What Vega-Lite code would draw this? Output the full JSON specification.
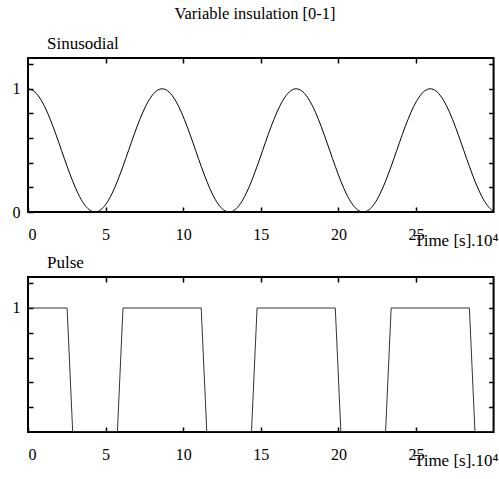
{
  "$schema": "https://vega.github.io/schema/vega-lite/v6.json",
  "padding": {"left": 11, "top": 5, "right": 0, "bottom": 0},
  "title": {"text": "Variable insulation [0-1]", "fontSize": 16.5, "fontWeight": "normal", "font": "serif", "color": "#000", "anchor": "middle", "offset": 12},
  "config": {
    "view": {"stroke": "#000", "strokeWidth": 2},
    "axis": {"domain": false, "grid": false, "tickColor": "#000", "tickWidth": 1.5, "tickSize": -5, "labelFont": "Liberation Serif", "labelFontSize": 16, "labelColor": "#000", "titleFont": "Times New Roman", "titleFontSize": 17, "titleFontWeight": "normal", "titleColor": "#000"},
    "title": {"font": "serif", "fontSize": 17, "fontWeight": "normal", "color": "#000"}
  },
  "datasets": {
    "sine": [
      {"t": 0, "v": 1}, {"t": 0.36, "v": 0.983}, {"t": 0.72, "v": 0.933}, {"t": 1.08, "v": 0.8536}, {"t": 1.44, "v": 0.75}, {"t": 1.8, "v": 0.6294}, {"t": 2.16, "v": 0.5}, {"t": 2.52, "v": 0.3706}, {"t": 2.88, "v": 0.25}, {"t": 3.24, "v": 0.1464}, {"t": 3.6, "v": 0.067}, {"t": 3.96, "v": 0.017},
      {"t": 4.32, "v": 0}, {"t": 4.68, "v": 0.017}, {"t": 5.04, "v": 0.067}, {"t": 5.4, "v": 0.1464}, {"t": 5.76, "v": 0.25}, {"t": 6.12, "v": 0.3706}, {"t": 6.48, "v": 0.5}, {"t": 6.84, "v": 0.6294}, {"t": 7.2, "v": 0.75}, {"t": 7.56, "v": 0.8536}, {"t": 7.92, "v": 0.933}, {"t": 8.28, "v": 0.983},
      {"t": 8.64, "v": 1}, {"t": 9, "v": 0.983}, {"t": 9.36, "v": 0.933}, {"t": 9.72, "v": 0.8536}, {"t": 10.08, "v": 0.75}, {"t": 10.44, "v": 0.6294}, {"t": 10.8, "v": 0.5}, {"t": 11.16, "v": 0.3706}, {"t": 11.52, "v": 0.25}, {"t": 11.88, "v": 0.1464}, {"t": 12.24, "v": 0.067}, {"t": 12.6, "v": 0.017},
      {"t": 12.96, "v": 0}, {"t": 13.32, "v": 0.017}, {"t": 13.68, "v": 0.067}, {"t": 14.04, "v": 0.1464}, {"t": 14.4, "v": 0.25}, {"t": 14.76, "v": 0.3706}, {"t": 15.12, "v": 0.5}, {"t": 15.48, "v": 0.6294}, {"t": 15.84, "v": 0.75}, {"t": 16.2, "v": 0.8536}, {"t": 16.56, "v": 0.933}, {"t": 16.92, "v": 0.983},
      {"t": 17.28, "v": 1}, {"t": 17.64, "v": 0.983}, {"t": 18, "v": 0.933}, {"t": 18.36, "v": 0.8536}, {"t": 18.72, "v": 0.75}, {"t": 19.08, "v": 0.6294}, {"t": 19.44, "v": 0.5}, {"t": 19.8, "v": 0.3706}, {"t": 20.16, "v": 0.25}, {"t": 20.52, "v": 0.1464}, {"t": 20.88, "v": 0.067}, {"t": 21.24, "v": 0.017},
      {"t": 21.6, "v": 0}, {"t": 21.96, "v": 0.017}, {"t": 22.32, "v": 0.067}, {"t": 22.68, "v": 0.1464}, {"t": 23.04, "v": 0.25}, {"t": 23.4, "v": 0.3706}, {"t": 23.76, "v": 0.5}, {"t": 24.12, "v": 0.6294}, {"t": 24.48, "v": 0.75}, {"t": 24.84, "v": 0.8536}, {"t": 25.2, "v": 0.933}, {"t": 25.56, "v": 0.983},
      {"t": 25.92, "v": 1}, {"t": 26.28, "v": 0.983}, {"t": 26.64, "v": 0.933}, {"t": 27, "v": 0.8536}, {"t": 27.36, "v": 0.75}, {"t": 27.72, "v": 0.6294}, {"t": 28.08, "v": 0.5}, {"t": 28.44, "v": 0.3706}, {"t": 28.8, "v": 0.25}, {"t": 29.16, "v": 0.1464}, {"t": 29.52, "v": 0.067}, {"t": 29.88, "v": 0.017},
      {"t": 30, "v": 0.0076}
    ],
    "pulse": [
      {"t": 0, "v": 1}, {"t": 2.52, "v": 1}, {"t": 2.88, "v": 0}, {"t": 5.76, "v": 0}, {"t": 6.12, "v": 1}, {"t": 11.16, "v": 1}, {"t": 11.52, "v": 0}, {"t": 14.4, "v": 0}, {"t": 14.76, "v": 1}, {"t": 19.8, "v": 1}, {"t": 20.16, "v": 0}, {"t": 23.04, "v": 0}, {"t": 23.4, "v": 1}, {"t": 28.44, "v": 1}, {"t": 28.8, "v": 0}, {"t": 30, "v": 0}
    ]
  },
  "vconcat": [
    {
      "width": 465.6,
      "height": 154,
      "title": {"text": "Sinusodial", "anchor": "start", "frame": "group", "dx": 19, "offset": -9, "baseline": "alphabetic", "font": "serif"},
      "data": {"name": "sine"},
      "layer": [
        {
          "mark": {"type": "line", "color": "#000", "strokeWidth": 1, "interpolate": "monotone", "clip": true},
          "encoding": {
            "x": {"field": "t", "type": "quantitative", "scale": {"domain": [0, 30], "nice": false}, "axis": {"orient": "bottom", "values": [0, 5, 10, 15, 20, 25], "labelPadding": 20, "title": "Time [s].10⁴", "titleAlign": "right", "titleAnchor": "end", "titleX": 470, "titleY": 34, "titleBaseline": "alphabetic"}},
            "y": {"field": "v", "type": "quantitative", "scale": {"domain": [0, 1.25], "nice": false}, "axis": {"orient": "left", "values": [0, 0.2, 0.4, 0.6, 0.8, 1, 1.2], "labelPadding": 13, "labelExpr": "datum.value == 0 ? '0' : (datum.value == 1 ? '1' : '')", "title": null}}
          }
        },
        {
          "mark": {"type": "line", "strokeOpacity": 0},
          "encoding": {
            "x": {"field": "t", "type": "quantitative", "axis": {"orient": "top", "values": [5, 10, 15, 20, 25], "labels": false, "title": null}},
            "y": {"field": "v", "type": "quantitative", "axis": {"orient": "right", "values": [0.2, 0.4, 0.6, 0.8, 1, 1.2], "labels": false, "title": null}}
          }
        }
      ],
      "resolve": {"axis": {"x": "independent", "y": "independent"}}
    },
    {
      "width": 465.6,
      "height": 155,
      "title": {"text": "Pulse", "anchor": "start", "frame": "group", "dx": 19, "offset": -9, "baseline": "alphabetic", "font": "serif"},
      "data": {"name": "pulse"},
      "layer": [
        {
          "mark": {"type": "line", "color": "#333", "strokeWidth": 1, "clip": true},
          "encoding": {
            "x": {"field": "t", "type": "quantitative", "scale": {"domain": [0, 30], "nice": false}, "axis": {"orient": "bottom", "values": [0, 5, 10, 15, 20, 25], "labelPadding": 20, "title": "Time [s].10⁴", "titleAlign": "right", "titleAnchor": "end", "titleX": 470, "titleY": 34, "titleBaseline": "alphabetic"}},
            "y": {"field": "v", "type": "quantitative", "scale": {"domain": [0, 1.25], "nice": false}, "axis": {"orient": "left", "values": [0.2, 0.4, 0.6, 0.8, 1, 1.2], "labelPadding": 13, "labelExpr": "datum.value == 1 ? '1' : ''", "title": null}}
          }
        },
        {
          "mark": {"type": "line", "strokeOpacity": 0},
          "encoding": {
            "x": {"field": "t", "type": "quantitative", "axis": {"orient": "top", "values": [5, 10, 15, 20, 25], "labels": false, "title": null}},
            "y": {"field": "v", "type": "quantitative", "axis": {"orient": "right", "values": [0.2, 0.4, 0.6, 0.8, 1, 1.2], "labels": false, "title": null}}
          }
        }
      ],
      "resolve": {"axis": {"x": "independent", "y": "independent"}}
    }
  ],
  "spacing": 65,
  "bounds": "flush"
}
